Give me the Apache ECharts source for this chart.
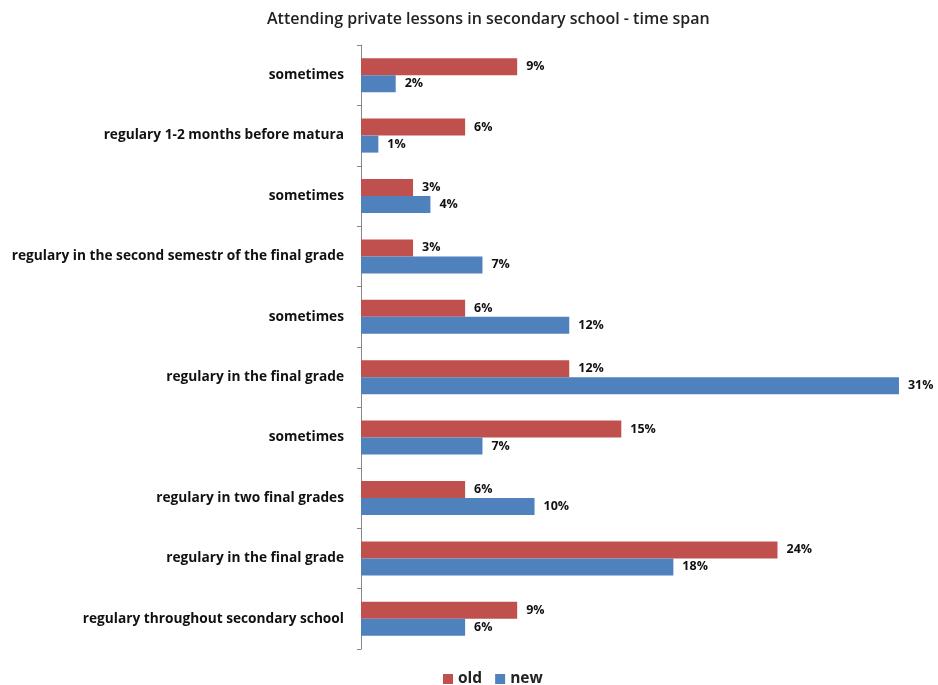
<!DOCTYPE html>
<html><head><meta charset="utf-8">
<script src="https://cdn.jsdelivr.net/npm/echarts@6/dist/echarts.min.js"></script>
<style>html,body{margin:0;padding:0;background:#fff}#c{width:938px;height:685px}</style>
</head><body><div id="c"></div>
<script>
const categories = [
  "sometimes",
  "regulary 1-2 months before matura",
  "sometimes",
  "regulary in the second semestr of the final grade",
  "sometimes",
  "regulary in the final grade",
  "sometimes",
  "regulary in two final grades",
  "regulary in the final grade",
  "regulary throughout secondary school"
];
const oldValues = [9, 6, 3, 3, 6, 12, 15, 6, 24, 9];
const newValues = [2, 1, 4, 7, 12, 31, 7, 10, 18, 6];
const seriesNames = ["old", "new"];

const FONT = "'Open Sans', sans-serif";
const chart = echarts.init(document.getElementById('c'));
const lbl = {show:true, position:'right', distance:9, formatter:'{c}%', color:'#111', fontFamily:FONT, fontWeight:'bold', fontSize:12.5};
chart.setOption({
  animation:false,
  title:{text:'Attending private lessons in secondary school - time span', left:262, top:6,
    textStyle:{fontFamily:FONT, fontSize:16, fontWeight:600, color:'#222'}},
  legend:{data:seriesNames, top:666, left:438, itemWidth:10, itemHeight:10, itemGap:13, icon:'rect',
    textStyle:{fontFamily:FONT, fontSize:15.5, fontWeight:'bold', color:'#222'}},
  grid:{left:361, top:45, width:564, bottom:36, containLabel:false},
  xAxis:{type:'value', min:0, max:32.5, show:false},
  yAxis:{type:'category', data:categories, inverse:true,
    axisLine:{lineStyle:{color:'#888'}},
    axisTick:{show:true, length:4, lineStyle:{color:'#888'}},
    axisLabel:{fontFamily:FONT, fontWeight:'bold', fontSize:13.7, color:'#111', margin:17}},
  series:[
    {name:'old', type:'bar', data:oldValues, itemStyle:{color:'#C0504D'}, barWidth:17, barGap:'0%', barCategoryGap:'43%', label:lbl},
    {name:'new', type:'bar', data:newValues, itemStyle:{color:'#4F81BD'}, barWidth:17, barGap:'0%', label:lbl}
  ]
});
</script></body></html>
